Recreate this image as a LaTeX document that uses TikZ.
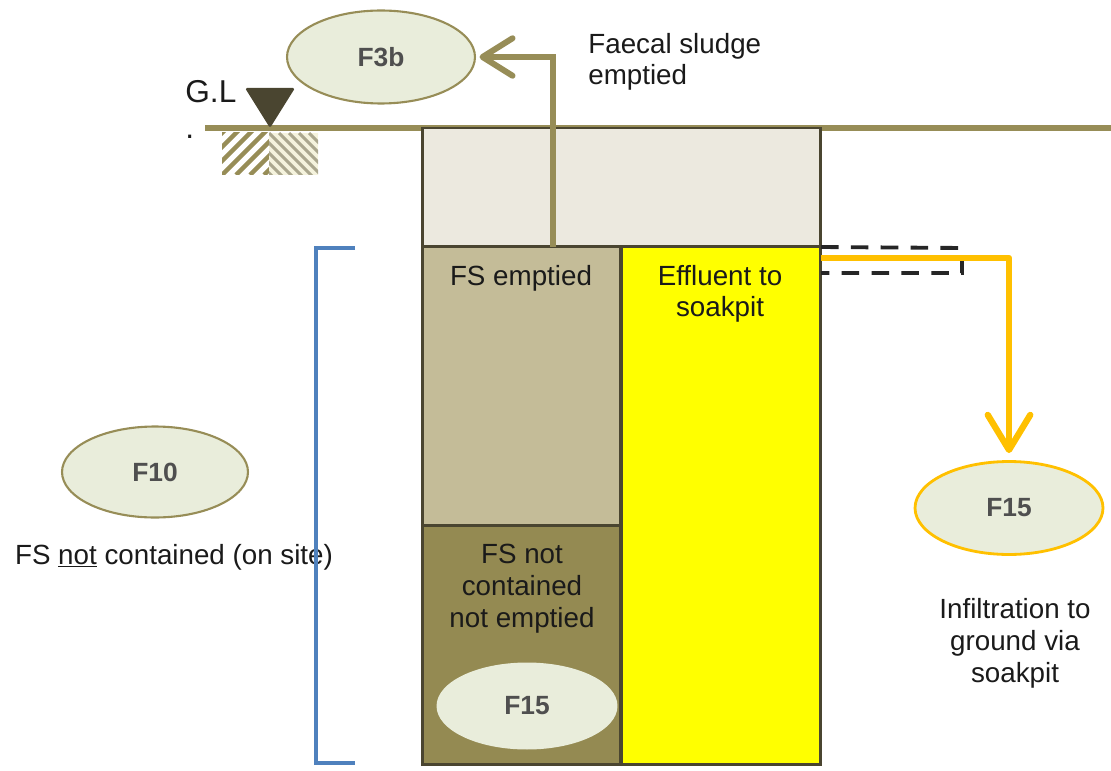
\documentclass[tikz,border=0pt]{standalone}
\usepackage{fontspec}
\setmainfont{Liberation Sans}
\usetikzlibrary{shapes.geometric,arrows.meta}
\definecolor{olv}{HTML}{978D57}
\definecolor{dk}{HTML}{4A4530}
\definecolor{toplt}{HTML}{ECE9DF}
\definecolor{fse}{HTML}{C4BC98}
\definecolor{fsn}{HTML}{948A52}
\definecolor{ell}{HTML}{E9EDDB}
\definecolor{org}{HTML}{FFC000}
\definecolor{blu}{HTML}{4F81BD}
\definecolor{hatchlt}{HTML}{F5F3DD}
\definecolor{hatchgr}{HTML}{ABA78E}
\definecolor{lbl}{HTML}{4F4F4F}
\definecolor{txtc}{HTML}{1A1A1A}
\definecolor{ylw}{HTML}{FFFF00}
\begin{document}
\begin{tikzpicture}[x=0.02cm,y=-0.02cm,
  pitbox/.style={draw=dk,line width=1.7pt,rectangle,inner sep=0pt,outer sep=0pt,anchor=north west},
  fell/.style={ellipse,inner sep=0pt,fill=ell,font=\fontsize{15}{18}\selectfont\bfseries,text=lbl},
  txt/.style={font=\fontsize{15.8}{17.5}\selectfont,align=center,inner sep=0pt,text=txtc},
  olvarrow/.style={olv,line width=3.4pt,-{Straight Barb[round,length=0.6cm,width=0.75cm]}},
  orgarrow/.style={org,line width=3.6pt,line join=round,-{Straight Barb[round,length=0.7cm,width=0.85cm]}},
  pipe/.style={black!85,line width=2.2pt,dash pattern=on 10pt off 7pt},
  brk/.style={blu,line width=2.3pt}
]
\useasboundingbox (0,0) rectangle (1111,770);

% ground line
\draw[olv,line width=2.9pt] (205,128) -- (1111,128);

% hatching
\begin{scope}
  \clip (222,133) rectangle (269,175);
  \foreach \i in {-70,-56,...,60} \draw[olv,line width=2.6pt] (222+\i,175) -- ++(60,-60);
\end{scope}
\begin{scope}
  \clip (269,133) rectangle (318,175);
  \fill[hatchlt] (269,133) rectangle (318,175);
  \foreach \i in {-60,-50,...,60} \draw[hatchgr,line width=1.8pt] (269+\i,133) -- ++(60,60);
\end{scope}

% ground level marker
\fill[dk,rounded corners=1pt] (245,88) -- (295,88) -- (270,128) -- cycle;
\node[anchor=base west,inner sep=0pt,align=left,font=\fontsize{18}{21}\selectfont,text=txtc] (gl) at (185,139) {G.L\\.};

% pit
\node[pitbox,fill=toplt,minimum width=7.98cm,minimum height=2.38cm] (ptop) at (422,128) {};
\node[pitbox,fill=fse,minimum width=3.98cm,minimum height=5.58cm] (fsempt) at (422,247) {};
\node[pitbox,fill=fsn,minimum width=3.98cm,minimum height=4.78cm] (fsnot) at (422,526) {};
\node[pitbox,fill=ylw,minimum width=4.0cm,minimum height=10.36cm] (effl) at (621,247) {};

% dashed pipe
\draw[pipe] (effl.north east) -- (962,248) -- (962,273) -- (821,273);

% ellipses
\node[fell,draw=olv,line width=1.2pt,minimum width=3.76cm,minimum height=1.86cm] (f3b) at (381,57) {F3b};
\node[fell,draw=olv,line width=1.2pt,minimum width=3.72cm,minimum height=1.82cm] (f10) at (155,472) {F10};
\node[fell,minimum width=3.62cm,minimum height=1.74cm] (f15a) at (527,706) {F15};
\node[fell,draw=org,line width=1.6pt,minimum width=3.76cm,minimum height=1.86cm] (f15b) at (1009,508) {F15};

% connectors
\coordinate (ax) at (553,0);
\draw[olvarrow,shorten >=2pt] (fsempt.north -| ax) |- (f3b.east);
\draw[orgarrow,shorten >=4pt] ([yshift=-0.22cm]effl.north east) -| (f15b.north);

% texts
\node[txt,anchor=base west,align=left,font=\fontsize{15.8}{18}\selectfont] (faecal) at (588,85) {Faecal sludge\\emptied};
\node[txt,anchor=base] (fse) at (521,285) {FS emptied};
\node[txt,anchor=base] (eff) at (720,316) {Effluent to\\soakpit};
\node[txt,anchor=base,font=\fontsize{15.8}{18.2}\selectfont] (fsn) at (522,627) {FS not\\contained\\not emptied};
\node[txt,anchor=base,font=\fontsize{15.8}{18}\selectfont] (infl) at (1015,682) {Infiltration to\\ground via\\soakpit};
\node[txt,anchor=base] (onsite) at (174,564) {FS \underline{not} contained (on site)};

% bracket
\draw[brk] (355,248) -- (316,248) -- (316,763) -- (355,763);
\end{tikzpicture}
\end{document}
